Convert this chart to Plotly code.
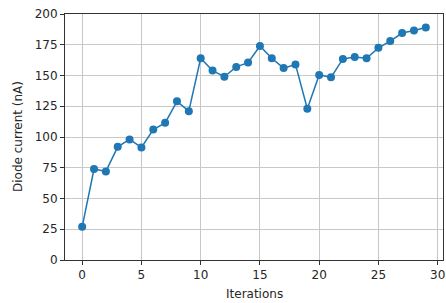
import plotly.graph_objects as go

iterations = list(range(30))
diode_current = [27, 74, 72, 92, 98, 91.5, 106, 111.5, 129, 121, 164, 154, 149, 157, 160.5,
                 174, 164, 156, 159, 123, 150.5, 148.5, 163.5, 165, 164, 172.5, 178, 184.5, 186.5, 189]
x_ticks = [0, 5, 10, 15, 20, 25, 30]
y_ticks = list(range(0, 201, 25))

fig = go.Figure(go.Scatter(
    x=iterations, y=diode_current, mode="lines+markers",
    line=dict(color="#1f77b4", width=1.5),
    marker=dict(color="#1f77b4", size=8),
))

font = dict(family="DejaVu Sans", size=12, color="#262626")

axis_common = dict(
    showline=True, linecolor="#333333", linewidth=1, mirror=True,
    ticks="outside", ticklen=4, tickcolor="#333333",
    showgrid=True, gridcolor="#c8c8c8", gridwidth=1, zeroline=False,
    automargin=False, ticklabeloverflow="allow",
    tickfont=font,
)

fig.update_layout(
    width=446, height=303,
    margin=dict(l=65, r=3, t=14, b=43),
    paper_bgcolor="white", plot_bgcolor="white",
    showlegend=False,
    xaxis=dict(range=[-1.45, 30.45], tickmode="array", tickvals=x_ticks, **axis_common),
    yaxis=dict(range=[0, 200], tickmode="array", tickvals=y_ticks, **axis_common),
    annotations=[
        dict(text="Iterations", xref="paper", yref="paper", x=0.5, y=0,
             xanchor="center", yanchor="middle", yshift=-34, showarrow=False, font=font),
        dict(text="Diode current (nA)", xref="paper", yref="paper", x=0, y=0.5,
             xanchor="center", yanchor="middle", xshift=-47, textangle=-90,
             showarrow=False, font=font),
    ],
)

fig.write_html("out.html", config={"displayModeBar": False},
               post_script="document.body.style.margin='0';document.body.style.overflow='hidden';")
